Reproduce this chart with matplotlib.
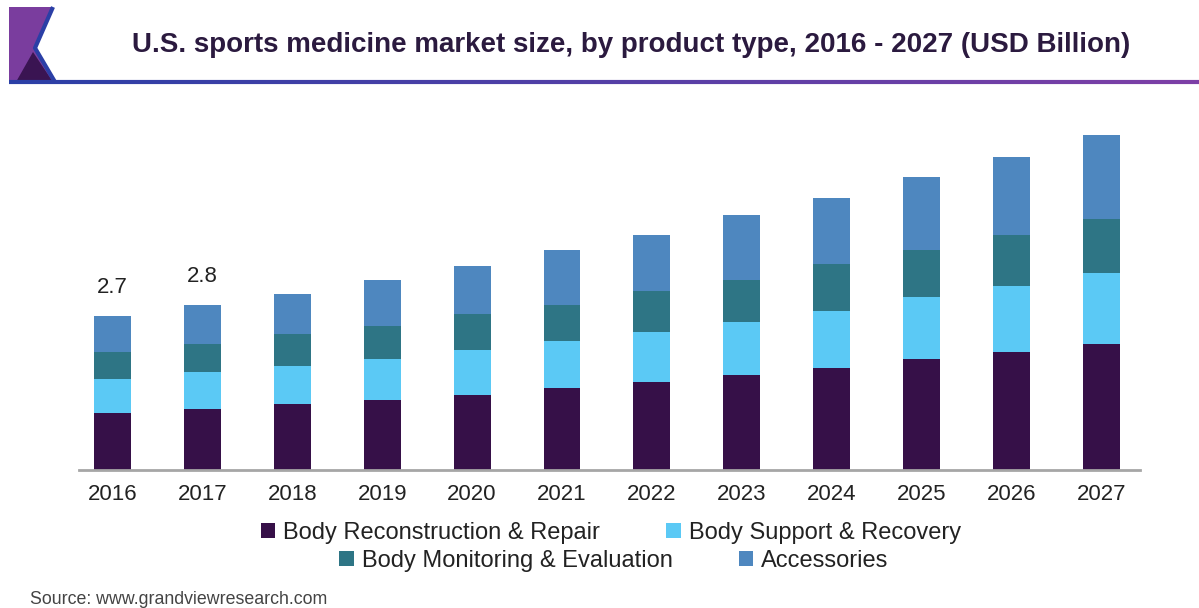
import numpy as np
import matplotlib.pyplot as plt
from matplotlib.patches import Patch, Polygon
from matplotlib.collections import LineCollection
from matplotlib.colors import LinearSegmentedColormap

plt.rcParams['font.family'] = ['Liberation Sans', 'DejaVu Sans']

# data (USD Billion)
years = ["2016", "2017", "2018", "2019", "2020", "2021", "2022", "2023", "2024", "2025", "2026", "2027"]
reconstruction = [0.98, 1.06, 1.13, 1.20, 1.29, 1.41, 1.52, 1.64, 1.76, 1.92, 2.03, 2.18]
support = [0.59, 0.63, 0.66, 0.71, 0.78, 0.82, 0.86, 0.91, 0.98, 1.06, 1.15, 1.22]
monitoring = [0.46, 0.49, 0.55, 0.58, 0.62, 0.62, 0.70, 0.73, 0.82, 0.82, 0.88, 0.93]
accessories = [0.63, 0.66, 0.69, 0.78, 0.83, 0.95, 0.98, 1.11, 1.13, 1.25, 1.33, 1.44]
total_labels = ["2.7", "2.8"]

series_names = ["Body Reconstruction & Repair", "Body Support & Recovery",
                "Body Monitoring & Evaluation", "Accessories"]
colors = ["#361048", "#5bc9f5", "#2e7585", "#4e87bf"]

W, H = 1199, 608
fig = plt.figure(figsize=(W / 100, H / 100), dpi=100)

# header decoration (pixel coords)
deco = fig.add_axes([0, 0, 1, 1], zorder=0)
deco.set_xlim(0, W)
deco.set_ylim(H, 0)
deco.axis("off")
deco.add_patch(Polygon([(9, 7), (53, 7), (35, 48), (55, 82), (9, 82)], closed=True,
                       facecolor="#7a3d9e", edgecolor="none"))
deco.add_patch(Polygon([(16, 82), (33, 52), (53, 82)], closed=True,
                       facecolor="#3a1452", edgecolor="none"))
deco.plot([53, 35, 55], [7, 48, 82], color="#2b3fa6", lw=3, solid_capstyle="butt")
xs = np.linspace(9, W, 200)
segs = [[(xs[i], 82), (xs[i + 1], 82)] for i in range(len(xs) - 1)]
cmap = LinearSegmentedColormap.from_list("hdr", ["#2b3fa6", "#7d3fa6"])
lc = LineCollection(segs, colors=[cmap(i / (len(segs) - 1)) for i in range(len(segs))], linewidths=3)
deco.add_collection(lc)

fig.text(631 / W, 1 - 45 / H, "U.S. sports medicine market size, by product type, 2016 - 2027 (USD Billion)",
         ha="center", va="center", fontsize=20, fontweight="bold", color="#2b1a3f")

# main chart
ax = fig.add_axes([79 / W, (H - 470) / H, (1140 - 79) / W, 350 / H])
x = np.arange(len(years))
bottom = np.zeros(len(years))
for vals, c, name in zip([reconstruction, support, monitoring, accessories], colors, series_names):
    ax.bar(x, vals, width=0.41, bottom=bottom, color=c, label=name, zorder=2)
    bottom += np.array(vals)

for i, lab in enumerate(total_labels):
    ax.annotate(lab, (x[i], bottom[i]), xytext=(0, 16.5), textcoords="offset points",
                ha="center", va="baseline", fontsize=16, color="#222222")

ax.set_xlim(-0.373, 11.43)
ax.set_ylim(0, 350 / 58)
ax.set_xticks(x)
ax.set_xticklabels(years, fontsize=16, color="#222222")
ax.tick_params(axis="x", length=0, pad=10)
ax.set_yticks([])
for s in ["top", "right", "left"]:
    ax.spines[s].set_visible(False)
ax.spines["bottom"].set_color("#a6a6a6")
ax.spines["bottom"].set_linewidth(2)

# legend in two centred rows
def row_legend(idx, xc, yc):
    handles = [Patch(facecolor=colors[i], edgecolor="none") for i in idx]
    labels = [series_names[i] for i in idx]
    leg = fig.legend(handles, labels, loc="center", bbox_to_anchor=(xc / W, 1 - yc / H), ncol=2,
                     frameon=False, fontsize=17, handlelength=0.6, handleheight=0.6,
                     handletextpad=0.35, columnspacing=2.8, labelcolor="#222222",
                     borderpad=0, borderaxespad=0)
    return leg

row_legend([0, 1], 611, 533)
row_legend([2, 3], 614, 561)

fig.text(30 / W, 1 - 600 / H, "Source: www.grandviewresearch.com", ha="left", va="center",
         fontsize=12.8, color="#444444")

fig.savefig("out.png", dpi=100)
